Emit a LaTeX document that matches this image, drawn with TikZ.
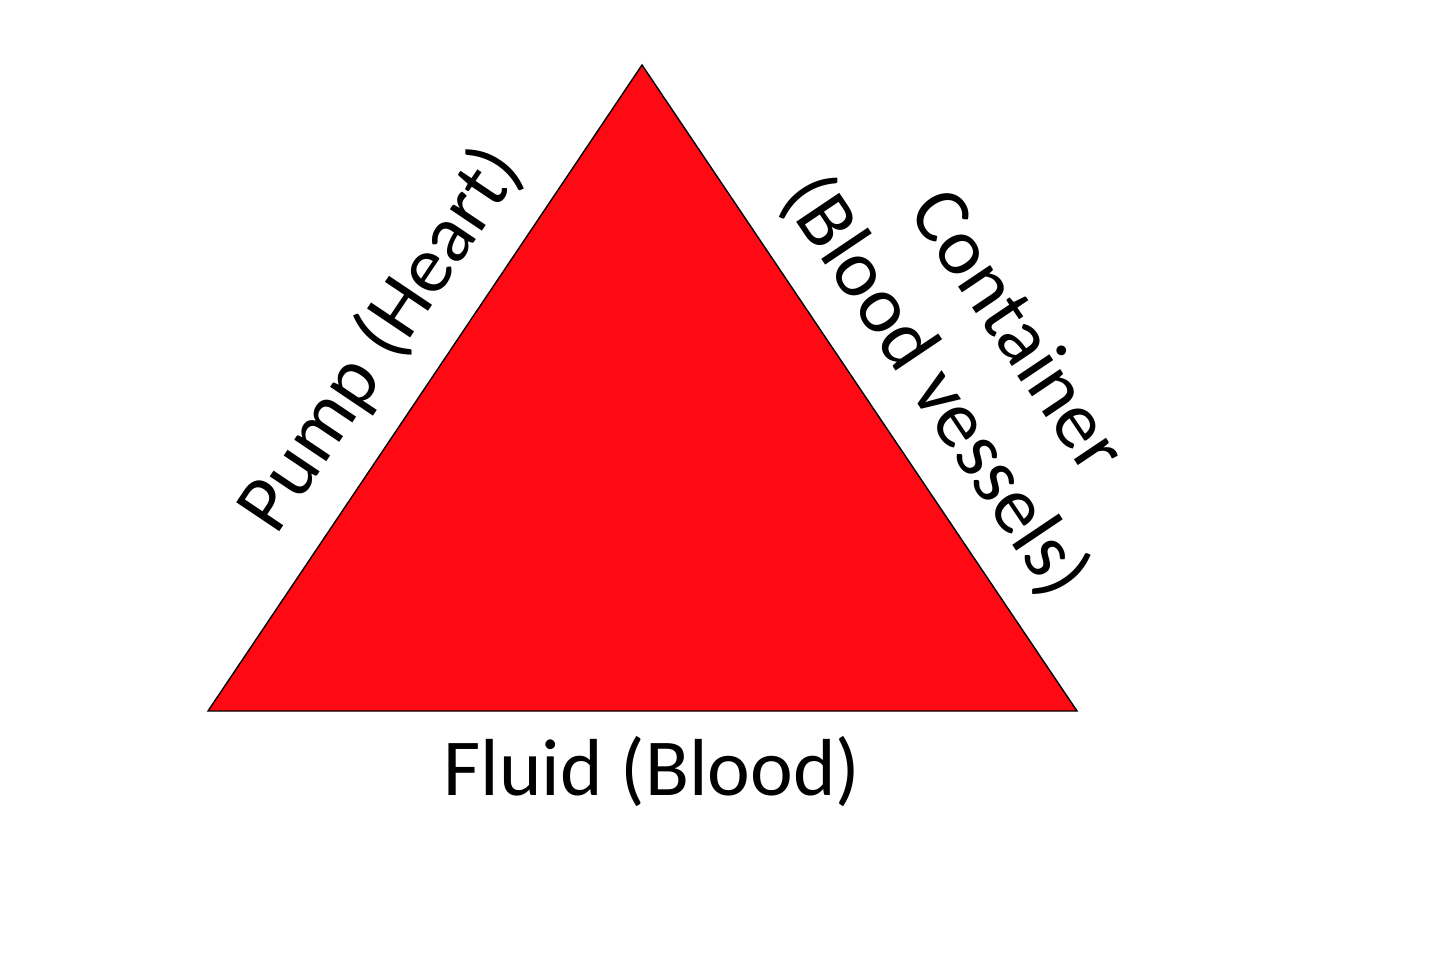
\documentclass[tikz,border=0pt]{standalone}
\usepackage{fontspec}
\setmainfont{Carlito}
\usepackage{tikz}
\usetikzlibrary{calc}
\definecolor{bloodred}{RGB}{255,10,20}

\begin{document}
\begin{tikzpicture}[
    x=0.01cm, y=0.01cm,
    every node/.style={font=\fontsize{23}{28}\selectfont, inner sep=0pt},
    side/.style={draw=black, line width=0.4pt, fill=bloodred}
]
    % Frame
    \useasboundingbox (0,0) rectangle (1440,956);

    % Corners of the triangle
    \coordinate (top) at (642,891);
    \coordinate (left) at (208,245);
    \coordinate (right) at (1077,245);

    \filldraw[side] (left) -- (top) -- (right) -- cycle;

    % Labels on the sides
    \node[anchor=base] (fluid) at (652,161) {Fluid (Blood)};
    \node[rotate=56.1] (pump) at (381,616) {Pump (Heart)};
    \node[rotate=-56.1, align=center] (container) at (975,596) {Container\\(Blood vessels)};
\end{tikzpicture}
\end{document}
